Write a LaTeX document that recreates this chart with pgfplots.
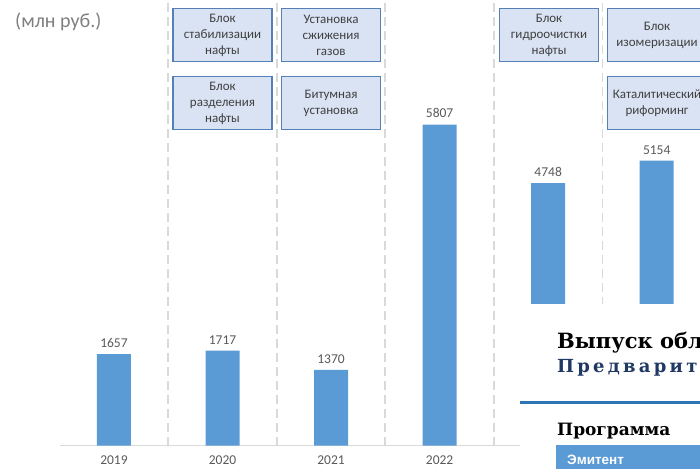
\documentclass[border=0pt]{standalone}
\usepackage{fontspec}
\setmainfont{Carlito}
\newfontfamily\docserif{DejaVu Serif}
\newfontfamily\docserifwide[LetterSpace=18]{DejaVu Serif}
\newfontfamily\docsans{Liberation Sans}
\usepackage{pgfplots}
\pgfplotsset{compat=1.18}

\definecolor{barblue}{HTML}{5B9BD5}
\definecolor{labelgray}{HTML}{595959}
\definecolor{unitgray}{HTML}{7F7F7F}
\definecolor{sepgray}{HTML}{D9D9D9}
\definecolor{boxfill}{HTML}{DAE3F3}
\definecolor{boxedge}{HTML}{5580B5}
\definecolor{boxtext}{HTML}{404040}
\definecolor{headblue}{HTML}{1F3864}
\definecolor{ruleblue}{HTML}{2E75B6}

\tikzset{
  stage/.style={draw=boxedge, fill=boxfill, line width=1.4pt,
    minimum width=99pt, minimum height=53pt, inner sep=2pt,
    align=center, text=boxtext, font=\fontsize{13}{16}\selectfont}
}

\begin{document}
\begin{tikzpicture}
\useasboundingbox (0pt,0pt) rectangle (700pt,469pt);
\clip (0pt,0pt) rectangle (700pt,469pt);

\begin{axis}[
  at={(59.7pt,23.4pt)}, anchor=south west,
  scale only axis, width=651.3pt, height=445.6pt,
  xmin=-0.5, xmax=5.5, ymin=0, ymax=8061,
  axis x line=bottom, axis y line=none,
  x axis line style={-, draw=sepgray, line width=1.2pt},
  xtick={0,1,2,3,4,5},
  xticklabels={2019,2020,2021,2022,2023,2024},
  major tick length=0pt,
  xticklabel style={text=labelgray, font=\fontsize{13.5}{15}\selectfont, yshift=-7pt},
  extra x ticks={0.5,1.5,2.5,3.5,4.5},
  extra x tick labels={},
  extra x tick style={grid=major,
    major grid style={draw=sepgray, line width=1.8pt, dash pattern=on 9pt off 5pt}},
  ybar, bar width=34pt,
  nodes near coords,
  nodes near coords style={text=labelgray, font=\fontsize{13.5}{15}\selectfont, yshift=3pt},
  /pgf/number format/.cd, 1000 sep={}, assume math mode=true,
]
\addplot[fill=barblue, draw=none] coordinates {
  (0,1657) (1,1717) (2,1370) (3,5807) (4,4748) (5,5154)
};
\end{axis}

% units
\node[anchor=west, text=unitgray, font=\fontsize{20}{22}\selectfont, inner sep=0pt] at (15pt,447pt) {(млн руб.)};

% commissioning notes per year
\node[stage] at (222.5pt,434pt) {Блок\\стабилизации\\нафты};
\node[stage] at (222.5pt,366pt) {Блок\\разделения\\нафты};
\node[stage] at (331pt,434pt) {Установка\\сжижения\\газов};
\node[stage] at (331pt,366pt) {Битумная\\установка};
\node[stage] at (549pt,434pt) {Блок\\гидроочистки\\нафты};
\node[stage] at (657pt,434pt) {Блок\\изомеризации};
\node[stage] at (657pt,366pt) {Каталитический\\риформинг};

% document page lying over the lower right corner
\fill[white] (520pt,0pt) rectangle (700pt,165pt);
\node[anchor=base west, inner sep=0pt, font=\docserif\bfseries\fontsize{21}{24}\selectfont] at (557pt,121pt) {Выпуск облигаций};
\node[anchor=base west, inner sep=0pt, text=headblue, font=\docserifwide\bfseries\fontsize{18}{22}\selectfont] at (557pt,97pt) {Предварительные условия};
\draw[ruleblue, line width=3pt] (520pt,67pt) -- (700pt,67pt);
\node[anchor=base west, inner sep=0pt, font=\docserif\bfseries\fontsize{17}{22}\selectfont] at (557pt,34pt) {Программа};
\fill[barblue] (556pt,0pt) rectangle (700pt,24pt);
\node[anchor=base west, inner sep=0pt, text=white, font=\docsans\bfseries\fontsize{13.5}{15}\selectfont] at (567pt,4.5pt) {Эмитент};
\end{tikzpicture}
\end{document}
